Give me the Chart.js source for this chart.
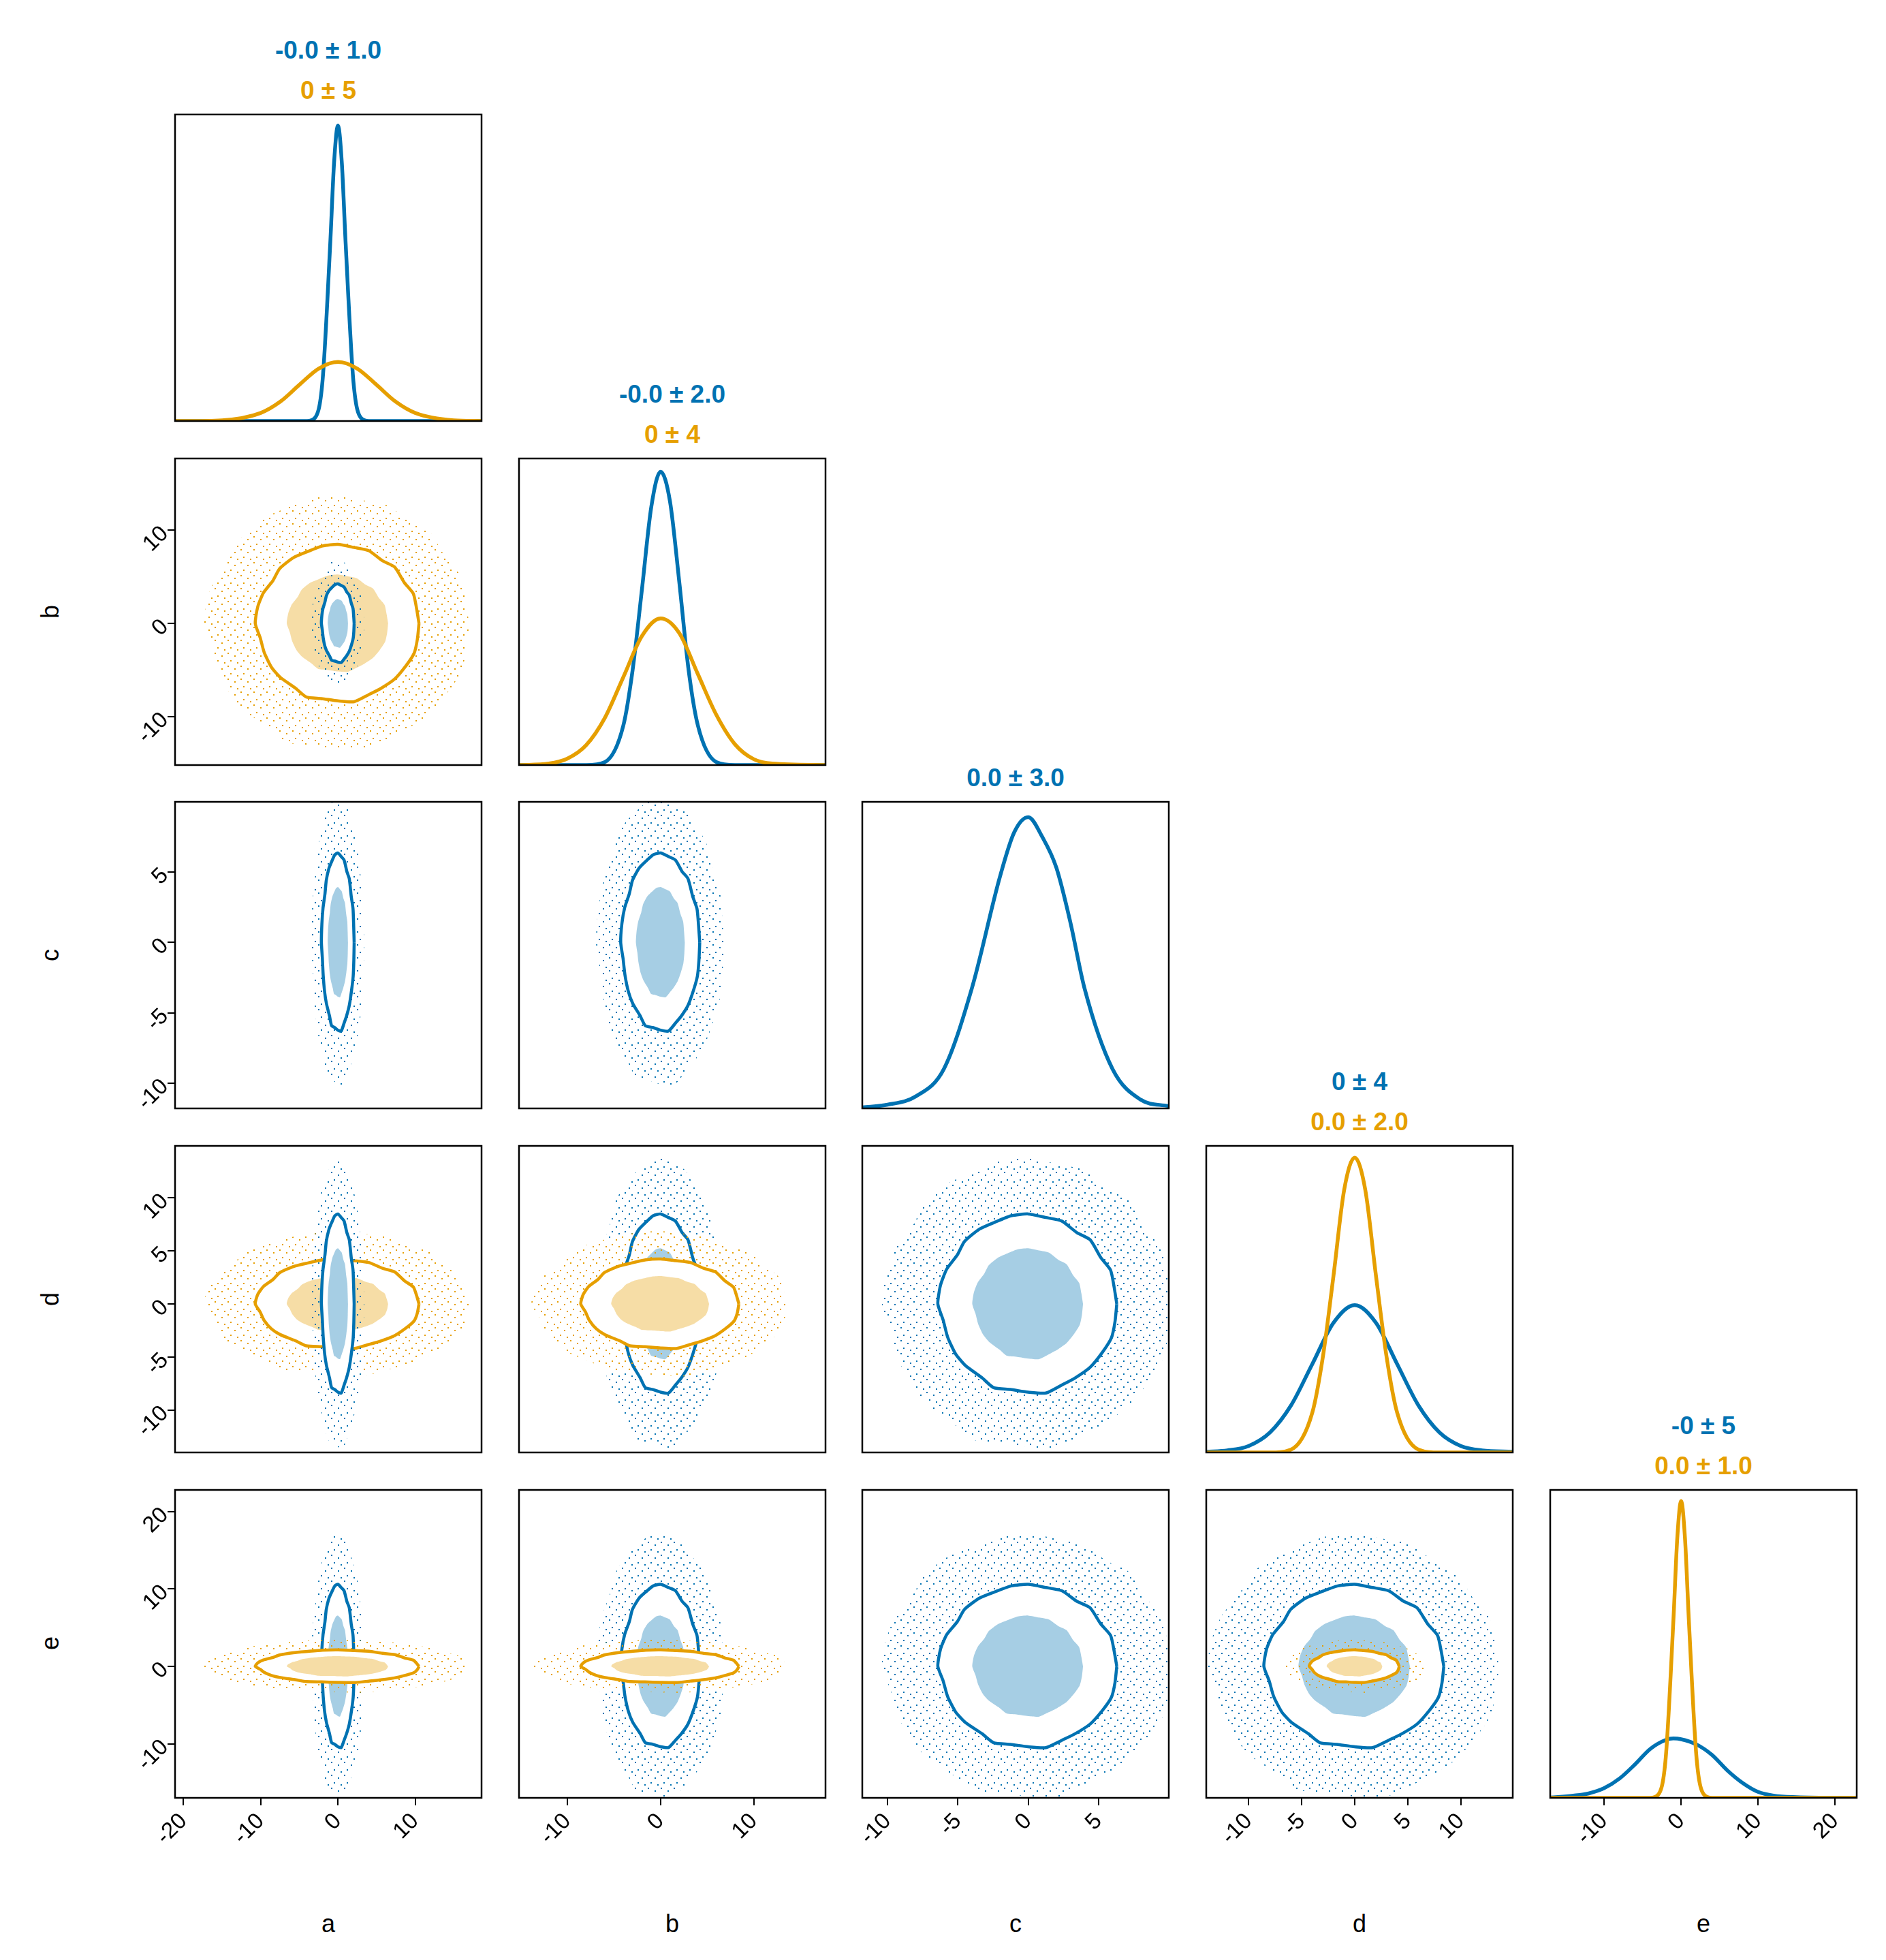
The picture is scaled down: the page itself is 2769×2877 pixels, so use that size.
<!DOCTYPE html>
<html lang="en">
<head>
<meta charset="UTF-8">
<title>Corner plot</title>
<script src="https://cdn.jsdelivr.net/npm/chart.js"></script>
<style>
    body { margin: 0; background: white; width: 2769px; height: 2877px; position: relative; overflow: hidden; font-family: "Liberation Sans", Arial, sans-serif; }
    canvas { position: absolute; }
    .stat { position: absolute; width: 450px; text-align: center; font-weight: bold; font-size: 37px; line-height: 40px; }
    .lab { position: absolute; font-size: 36px; width: 100px; text-align: center; line-height: 40px; }
</style>
</head>
<body>
<script>
// variables and axes
const vars = ['a', 'b', 'c', 'd', 'e'];
const axisMin = [-21.1, -15.2, -11.8, -14.0, -17.0];
const axisMax = [18.6, 17.7, 10.0, 14.9, 22.8];
const tickVals = [[-20, -10, 0, 10], [-10, 0, 10], [-10, -5, 0, 5], [-10, -5, 0, 5, 10], [-10, 0, 10, 20]];
const blueSd = [1, 2, 3, 4, 5];
const orangeSd = [5, 4, null, 2, 1];
const blueStats = ['-0.0 ± 1.0', '-0.0 ± 2.0', '0.0 ± 3.0', '0 ± 4', '-0 ± 5'];
const orangeStats = ['0 ± 5', '0 ± 4', null, '0.0 ± 2.0', '0.0 ± 1.0'];
const diagMax = [0.415, 0.209, 0.14, 0.208, 0.415];

// density curves on the diagonal (x, density)
const blueDensX = [
    [-21.1, -4, -3, -2, -1, -0.5, 0, 0.5, 1, 2, 3, 4, 18.6],
    [-15.2, -8, -6, -4, -3, -2, -1, 0, 1, 2, 3, 4, 6, 8, 17.7],
    [-11.8, -10, -8, -6, -4, -2, -1, 0, 1, 2, 3, 4, 6, 8, 10],
    [-14, -12, -10, -8, -6, -4, -2, 0, 2, 4, 6, 8, 10, 12, 14.9],
    [-17, -14, -12, -10, -8, -6, -4, -2, -1, 0, 2, 4, 6, 8, 10, 12, 15, 22.8]
];
const blueDensY = [
    [0, 0, 0.004, 0.054, 0.24, 0.35, 0.40, 0.35, 0.24, 0.054, 0.004, 0, 0],
    [0, 0, 0.002, 0.027, 0.065, 0.12, 0.176, 0.2, 0.18, 0.125, 0.065, 0.027, 0.002, 0, 0],
    [0.0005, 0.0017, 0.0055, 0.018, 0.055, 0.106, 0.126, 0.133, 0.124, 0.11, 0.085, 0.055, 0.018, 0.004, 0.001],
    [0.0005, 0.0014, 0.0044, 0.0135, 0.032, 0.06, 0.088, 0.1, 0.088, 0.06, 0.032, 0.0135, 0.0044, 0.0014, 0.0005],
    [0.0005, 0.003, 0.006, 0.013, 0.026, 0.045, 0.066, 0.078, 0.08, 0.079, 0.072, 0.058, 0.037, 0.02, 0.008, 0.003, 0.001, 0]
];
const orangeDensX = [
    [-21.1, -20, -15, -10, -7.5, -5, -2.5, 0, 2.5, 5, 7.5, 10, 15, 18.6],
    [-15.2, -12, -10, -8, -6, -4, -2, 0, 2, 4, 6, 8, 10, 12, 17.7],
    null,
    [-14, -8, -6, -4, -3, -2, -1, 0, 1, 2, 3, 4, 6, 8, 14.9],
    [-17, -4, -3, -2, -1, -0.5, 0, 0.5, 1, 2, 3, 4, 22.8]
];
const orangeDensY = [
    [0, 0, 0.001, 0.011, 0.026, 0.049, 0.071, 0.08, 0.071, 0.049, 0.026, 0.011, 0.001, 0],
    [0, 0.001, 0.0044, 0.0135, 0.032, 0.06, 0.088, 0.1, 0.09, 0.062, 0.034, 0.014, 0.004, 0.001, 0],
    null,
    [0, 0, 0.002, 0.027, 0.065, 0.12, 0.178, 0.2, 0.178, 0.12, 0.065, 0.027, 0.002, 0, 0],
    [0, 0, 0.004, 0.054, 0.24, 0.35, 0.40, 0.35, 0.24, 0.054, 0.004, 0, 0]
];

// normalized contour outline (in sd units), closed, slightly wobbly
const ringX = [1.00, 0.97, 0.93, 0.82, 0.70, 0.55, 0.38, 0.20, 0.00, -0.19, -0.37, -0.55, -0.72, -0.80, -0.92, -0.99, -1.02, -0.96, -0.91, -0.82, -0.71, -0.52, -0.39, -0.20, 0.00, 0.20, 0.38, 0.53, 0.70, 0.84, 0.94, 0.98, 1.00];
const ringY = [0.00, 0.19, 0.38, 0.52, 0.72, 0.80, 0.93, 0.97, 1.01, 0.99, 0.92, 0.84, 0.70, 0.55, 0.39, 0.21, 0.00, -0.18, -0.37, -0.56, -0.69, -0.83, -0.94, -0.96, -0.99, -1.00, -0.91, -0.83, -0.71, -0.54, -0.38, -0.20, 0.00];
const levels = { cloud: 3.4, outer: 2.1, inner: 1.3 };

const BLUE = '#0072b2', ORANGE = '#e69f00';
const BLUE_FILL = 'rgba(0,114,178,0.35)', ORANGE_FILL = 'rgba(230,159,0,0.35)';

// layout
const P0X = 257, P0Y = 168, STEP = 504.7, SIZE = 450, PAD = 150;

function dotPattern(color) {
    const c = document.createElement('canvas');
    c.width = 19; c.height = 19;
    const g = c.getContext('2d');
    g.fillStyle = color;
    [[1, 2], [11, 6], [5, 13], [15, 16]].forEach(p => g.fillRect(p[0], p[1], 2, 2));
    return g.createPattern(c, 'repeat');
}
const patterns = { blue: dotPattern(BLUE), orange: dotPattern(ORANGE) };

function ring(sx, sy, lvl) {
    return ringX.map((v, i) => ({ x: v * sx * lvl, y: ringY[i] * sy * lvl }));
}

const frame = {
    id: 'frame',
    afterDraw(chart) {
        const a = chart.chartArea, ctx = chart.ctx;
        ctx.save();
        ctx.strokeStyle = 'black';
        ctx.lineWidth = 2.5;
        ctx.strokeRect(a.left, a.top, a.right - a.left, a.bottom - a.top);
        ctx.restore();
    }
};

function axis(v, show, fixed, horizontal, min, max) {
    return {
        type: 'linear', min: min, max: max,
        afterBuildTicks: s => { s.ticks = v === null ? [] : tickVals[v].map(t => ({ value: t })); },
        afterFit: s => {
            if (horizontal) s.height = fixed; else s.width = fixed;
            s.paddingLeft = 0; s.paddingRight = 0; s.paddingTop = 0; s.paddingBottom = 0;
        },
        grid: { display: show, drawOnChartArea: false, drawTicks: show, tickLength: 11, color: 'black', lineWidth: 2 },
        border: { display: false },
        ticks: { display: show, color: 'black', font: { family: 'Liberation Sans', size: 33 }, minRotation: 45, maxRotation: 45, padding: 4 }
    };
}

function contourSets(xi, yi) {
    const series = [];
    [['blue', blueSd], ['orange', orangeSd]].forEach(([name, sd]) => {
        if (sd[xi] !== null && sd[yi] !== null) series.push({ name: name, sx: sd[xi], sy: sd[yi] });
    });
    series.sort((p, q) => q.sx * q.sy - p.sx * p.sy);
    const list = [];
    series.forEach(s => {
        const line = s.name === 'blue' ? BLUE : ORANGE;
        const fillC = s.name === 'blue' ? BLUE_FILL : ORANGE_FILL;
        const base = { showLine: true, pointRadius: 0, tension: 0.2 };
        list.push(Object.assign({}, base, { data: ring(s.sx, s.sy, levels.cloud), fill: 'shape', backgroundColor: patterns[s.name], borderWidth: 0 }));
        list.push(Object.assign({}, base, { data: ring(s.sx, s.sy, levels.outer), fill: 'shape', backgroundColor: 'white', borderWidth: 0 }));
        list.push(Object.assign({}, base, { data: ring(s.sx, s.sy, levels.inner), fill: 'shape', backgroundColor: fillC, borderWidth: 0 }));
        list.push(Object.assign({}, base, { data: ring(s.sx, s.sy, levels.outer), fill: false, borderColor: line, borderWidth: 4.5 }));
    });
    return list.reverse();
}

function densitySets(i) {
    const list = [];
    const mk = (xs, ys, color) => ({
        data: xs.map((x, k) => ({ x: x, y: ys[k] })), showLine: true, pointRadius: 0,
        cubicInterpolationMode: 'monotone', borderColor: color, borderWidth: 5.5, fill: false
    });
    list.push(mk(blueDensX[i], blueDensY[i], BLUE));
    if (orangeDensX[i]) list.push(mk(orangeDensX[i], orangeDensY[i], ORANGE));
    return list.reverse();
}

for (let r = 0; r < 5; r++) {
    for (let c = 0; c <= r; c++) {
        const padL = (c === 0 && r > 0) ? PAD : 0;
        const padB = r === 4 ? PAD : 0;
        const cv = document.createElement('canvas');
        const w = SIZE + padL + 4, h = SIZE + padB + 4;
        cv.width = w; cv.height = h;
        cv.style.width = w + 'px'; cv.style.height = h + 'px';
        cv.style.left = Math.round(P0X + c * STEP - padL - 2) + 'px';
        cv.style.top = Math.round(P0Y + r * STEP - 2) + 'px';
        document.body.appendChild(cv);
        const diag = r === c;
        new Chart(cv.getContext('2d'), {
            type: 'scatter',
            data: { datasets: diag ? densitySets(c) : contourSets(c, r) },
            options: {
                responsive: false, animation: false, devicePixelRatio: 1,
                layout: { padding: { top: 2, right: 2, left: padL ? 2 : 2, bottom: padB ? 0 : 2 } },
                plugins: { legend: { display: false }, tooltip: { enabled: false } },
                scales: {
                    x: axis(c, r === 4, padB, true, axisMin[c], axisMax[c]),
                    y: diag ? axis(null, false, 0, false, 0, diagMax[c]) : axis(r, c === 0, padL, false, axisMin[r], axisMax[r])
                }
            },
            plugins: [frame]
        });
    }
    // stats above diagonal panel
    const left = Math.round(P0X + r * STEP), top = Math.round(P0Y + r * STEP);
    const addStat = (txt, color, y) => {
        const d = document.createElement('div');
        d.className = 'stat'; d.textContent = txt; d.style.color = color;
        d.style.left = left + 'px'; d.style.top = (y - 20) + 'px';
        document.body.appendChild(d);
    };
    if (orangeStats[r]) { addStat(blueStats[r], BLUE, top - 94); addStat(orangeStats[r], ORANGE, top - 35); }
    else addStat(blueStats[r], BLUE, top - 35);
    // axis labels
    const xl = document.createElement('div');
    xl.className = 'lab'; xl.textContent = vars[r];
    xl.style.left = (left + SIZE / 2 - 50) + 'px'; xl.style.top = '2804px';
    document.body.appendChild(xl);
    if (r > 0) {
        const yl = document.createElement('div');
        yl.className = 'lab'; yl.textContent = vars[r];
        yl.style.left = '24px'; yl.style.top = (top + SIZE / 2 - 20) + 'px';
        yl.style.transform = 'rotate(-90deg)';
        document.body.appendChild(yl);
    }
}
</script>
</body>
</html>
